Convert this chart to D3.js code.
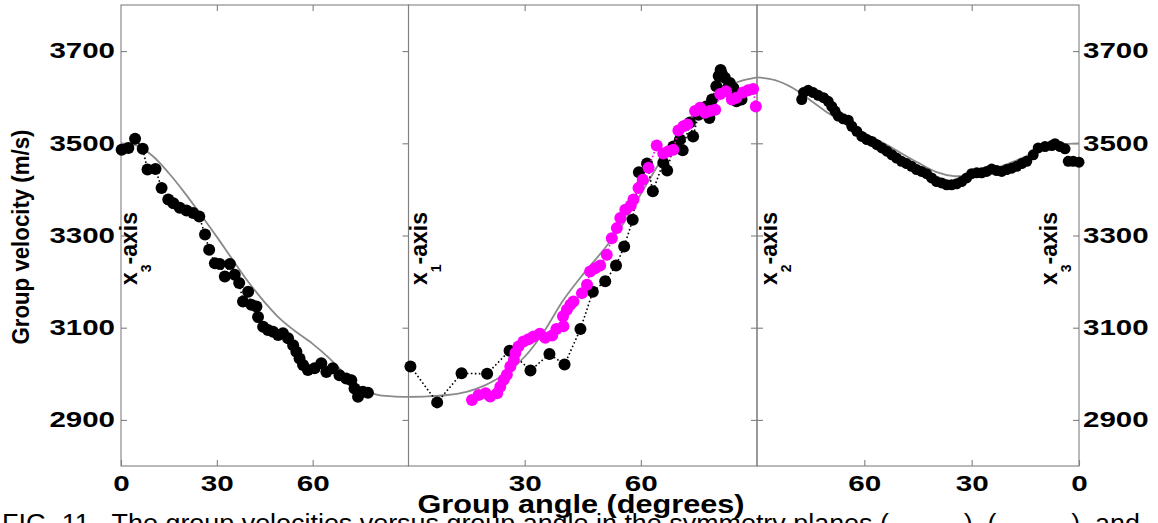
<!DOCTYPE html>
<html>
<head>
<meta charset="utf-8">
<script src="https://cdn.jsdelivr.net/npm/d3@7"></script>
<style>
  body { margin: 0; background: #fff; }
  svg { display: block; font-family: "Liberation Sans", Arial, sans-serif; }
  .tick text { font-weight: bold; fill: #000; }
</style>
</head>
<body>
<div id="chart"></div>
<script>
var svgWidth = 1158;
var svgHeight = 523;

// y ticks shared by all panels
var velTicks = [2900, 3100, 3300, 3500, 3700];

// theory curves (grey)
var t1Angle = [0, 5, 10, 15, 20, 25, 30, 35, 40, 45, 50, 55, 60, 65, 70, 75, 80, 85, 90];
var t1Vel = [3500, 3495, 3472, 3435, 3392, 3345, 3297, 3247, 3198, 3155, 3118, 3090, 3065, 3035, 3000, 2970, 2955, 2951, 2950];
var t2Angle = [0, 5, 10, 15, 20, 25, 30, 35, 40, 45, 50, 55, 60, 65, 70, 75, 80, 85, 90];
var t2Vel = [2950, 2951, 2954, 2961, 2976, 3000, 3037, 3092, 3160, 3215, 3265, 3320, 3390, 3460, 3522, 3575, 3612, 3633, 3643];
var t3Angle = [90, 85, 80, 75, 70, 65, 60, 55, 50, 45, 40, 35, 30, 25, 20, 15, 10, 5, 0];
var t3Vel = [3643, 3637, 3620, 3593, 3565, 3542, 3522, 3502, 3480, 3458, 3438, 3429, 3431, 3441, 3455, 3471, 3487, 3497, 3500];

// measured, x3 -> x1 plane
var p1Angle = [0.2, 2.3, 4.4, 6.8, 8.3, 10.8, 12.7, 14.8, 16.4, 18.4, 20.5, 22.6, 24.5, 26.3, 27.6, 29.4, 30.9, 32.5, 34.1, 35.6, 37.0, 38.2, 39.8, 40.8, 42.4, 42.9, 44.5, 46.0, 47.6, 49.2, 50.7, 52.3, 53.9, 54.9, 55.9, 57.0, 58.5, 60.6, 62.7, 64.3, 66.3, 68.4, 70.5, 72.1, 73.1, 74.2, 75.7, 77.3];
var p1Vel = [3486, 3490, 3510, 3488, 3443, 3444, 3403, 3378, 3370, 3360, 3354, 3349, 3341, 3302, 3269, 3240, 3238, 3211, 3238, 3215, 3197, 3157, 3178, 3150, 3146, 3123, 3102, 3095, 3091, 3084, 3088, 3077, 3062, 3048, 3033, 3019, 3008, 3012, 3023, 3004, 3012, 2997, 2990, 2986, 2968, 2950, 2961, 2959];

// measured, x1 -> x2 plane (black and magenta)
var p2BlackAngle = [0.5, 7.4, 13.7, 20.3, 26.1, 31.5, 36.4, 40.3, 44.4, 47.6, 50.8, 53.6, 55.7, 57.9, 59.5, 61.6, 63.1, 65.8, 66.8, 68.4, 70.1, 70.8, 72.7, 73.5, 74.9, 76.9, 77.7, 78.4, 79.5, 80.1, 80.6, 80.9, 81.7, 82.5, 83.0, 83.5, 83.9, 84.3, 84.7, 86.0];
var p2BlackVel = [3016, 2938, 3001, 3000, 3050, 3007, 3043, 3020, 3097, 3178, 3201, 3235, 3276, 3334, 3437, 3456, 3396, 3458, 3441, 3493, 3508, 3485, 3545, 3515, 3562, 3580, 3555, 3595, 3624, 3646, 3659, 3651, 3642, 3621, 3631, 3606, 3620, 3602, 3591, 3595];
var p2MagAngle = [16.4, 18.1, 19.9, 21.1, 22.9, 23.7, 24.6, 25.4, 26.3, 27.2, 27.6, 28.4, 29.7, 31.0, 32.3, 33.9, 35.3, 37.1, 38.2, 39.9, 40.0, 40.9, 41.8, 42.6, 44.8, 46.1, 46.9, 48.2, 49.5, 51.2, 52.5, 53.8, 54.7, 56.0, 57.4, 58.1, 59.4, 60.5, 62.0, 64.1, 65.8, 67.1, 68.4, 69.7, 71.0, 72.0, 74.0, 75.3, 76.6, 77.8, 79.2, 80.5, 82.0, 83.5, 84.7, 86.4, 87.7, 89.0, 89.7];
var p2MagVel = [2943, 2954, 2958, 2951, 2958, 2972, 2987, 2998, 3016, 3030, 3045, 3059, 3070, 3075, 3081, 3087, 3078, 3083, 3097, 3125, 3103, 3139, 3150, 3157, 3175, 3193, 3222, 3229, 3235, 3258, 3294, 3316, 3338, 3356, 3365, 3378, 3403, 3421, 3447, 3495, 3478, 3483, 3486, 3528, 3537, 3541, 3570, 3577, 3566, 3570, 3573, 3607, 3613, 3595, 3599, 3610, 3615, 3618, 3580];

// measured, x2 -> x3 plane
var p3Angle = [77.5, 77.0, 75.7, 74.3, 72.9, 71.4, 70.1, 69.1, 68.2, 67.3, 65.9, 64.5, 63.5, 62.1, 60.7, 59.3, 57.9, 56.5, 55.1, 53.7, 52.3, 51.0, 49.6, 48.2, 46.8, 45.4, 44.0, 42.6, 41.2, 39.8, 38.4, 37.0, 35.6, 34.2, 32.8, 31.4, 30.0, 28.6, 27.2, 25.8, 24.4, 23.0, 21.6, 20.2, 18.8, 17.4, 16.0, 14.6, 12.8, 11.4, 9.5, 7.6, 6.7, 5.3, 3.9, 3.0, 1.6, 0.0];
var p3Vel = [3595, 3610, 3615, 3610, 3604, 3599, 3591, 3580, 3570, 3559, 3553, 3550, 3537, 3526, 3515, 3508, 3504, 3497, 3490, 3483, 3475, 3468, 3461, 3456, 3450, 3443, 3439, 3434, 3425, 3417, 3414, 3410, 3410, 3412, 3417, 3425, 3434, 3436, 3436, 3439, 3444, 3441, 3439, 3443, 3446, 3450, 3456, 3461, 3475, 3490, 3493, 3495, 3499, 3493, 3488, 3461, 3461, 3459];

var plotTop = 5, plotBottom = 466;
var frameColor = "#808080";

var svg = d3.select("#chart")
  .append("svg")
  .attr("width", svgWidth)
  .attr("height", svgHeight);

var y = d3.scaleLinear().domain([2800, 3800]).range([plotBottom, plotTop]);

var x1 = d3.scaleLinear().domain([0, 90]).range([121, 408.5]);
var x2 = d3.scaleLinear().domain([0, 90]).range([408.5, 757]);
var x3 = d3.scaleLinear().domain([90, 0]).range([757, 1079]);

function zip(a, b) {
  return a.map((d, i) => [d, b[i]]);
}

// draw an axis, style its ticks, drop the domain path
function drawAxis(axis, tx, ty, fontSize, charWidth) {
  var g = svg.append("g")
    .attr("transform", `translate(${tx}, ${ty})`)
    .call(axis);
  g.select(".domain").remove();
  g.selectAll(".tick line").attr("stroke", frameColor).attr("stroke-width", 1.1);
  g.selectAll(".tick text")
    .attr("font-size", fontSize)
    .each(function() {
      var t = d3.select(this).text();
      if (t.length) {
        d3.select(this).attr("textLength", t.length * charWidth).attr("lengthAdjust", "spacingAndGlyphs");
      }
    });
  return g;
}

var noLabel = () => "";
var plain = d3.format("d");

// bottom axes (labels) and top axes (ticks only)
drawAxis(d3.axisBottom(x1).tickValues([0, 30, 60]).tickFormat(plain).tickSize(-6).tickPadding(9), 0, plotBottom, 22, 16.5);
drawAxis(d3.axisBottom(x2).tickValues([30, 60]).tickFormat(plain).tickSize(-6).tickPadding(9), 0, plotBottom, 22, 16.5);
drawAxis(d3.axisBottom(x3).tickValues([60, 30, 0]).tickFormat(plain).tickSize(-6).tickPadding(9), 0, plotBottom, 22, 16.5);
drawAxis(d3.axisTop(x1).tickValues([30, 60]).tickSize(-6).tickFormat(noLabel), 0, plotTop, 22, 16.5);
drawAxis(d3.axisTop(x2).tickValues([30, 60]).tickSize(-6).tickFormat(noLabel), 0, plotTop, 22, 16.5);
drawAxis(d3.axisTop(x3).tickValues([60, 30]).tickSize(-6).tickFormat(noLabel), 0, plotTop, 22, 16.5);

// y axes: outer ones carry labels, dividers only ticks
drawAxis(d3.axisLeft(y).tickValues(velTicks).tickFormat(plain).tickSize(-6).tickPadding(6), 121, 0, 21.5, 16.4);
drawAxis(d3.axisRight(y).tickValues(velTicks).tickSize(-6).tickFormat(noLabel), 408.5, 0, 21, 16.4);
drawAxis(d3.axisRight(y).tickValues(velTicks).tickSize(-6).tickFormat(noLabel), 757, 0, 21, 16.4);
drawAxis(d3.axisLeft(y).tickValues(velTicks).tickSize(-6).tickFormat(noLabel), 757, 0, 21, 16.4);
drawAxis(d3.axisRight(y).tickValues(velTicks).tickFormat(plain).tickSize(-6).tickPadding(4), 1079, 0, 21.5, 16.4);

// panel frames
[[121, 408.5], [408.5, 757], [757, 1079]].forEach(function(p) {
  svg.append("rect")
    .attr("x", p[0])
    .attr("y", plotTop)
    .attr("width", p[1] - p[0])
    .attr("height", plotBottom - plotTop)
    .attr("fill", "none")
    .attr("stroke", frameColor)
    .attr("stroke-width", 1.1);
});

// theory curves
var theory = [[x1, zip(t1Angle, t1Vel)], [x2, zip(t2Angle, t2Vel)], [x3, zip(t3Angle, t3Vel)]];
theory.forEach(function(t) {
  var line = d3.line().x(d => t[0](d[0])).y(d => y(d[1])).curve(d3.curveCatmullRom);
  svg.append("path")
    .attr("d", line(t[1]))
    .attr("fill", "none")
    .attr("stroke", "#8a8a8a")
    .attr("stroke-width", 1.8);
});

// measured points with dotted connecting line
function drawSeries(xs, data, color, r) {
  var line = d3.line().x(d => xs(d[0])).y(d => y(d[1]));
  svg.append("path")
    .attr("d", line(data))
    .attr("fill", "none")
    .attr("stroke", color)
    .attr("stroke-width", 1.6)
    .attr("stroke-dasharray", "1.6,2.4");
  svg.append("g").selectAll("circle")
    .data(data)
    .enter()
    .append("circle")
    .attr("cx", d => xs(d[0]))
    .attr("cy", d => y(d[1]))
    .attr("r", r)
    .attr("fill", color);
}

drawSeries(x1, zip(p1Angle, p1Vel), "#000", 6);
drawSeries(x2, zip(p2BlackAngle, p2BlackVel), "#000", 6);
drawSeries(x2, zip(p2MagAngle, p2MagVel), "#ff00ff", 6);
drawSeries(x3, zip(p3Angle, p3Vel), "#000", 5.5);

// rotated plane labels, e.g. x3-axis
var planeLabels = [[137, "3"], [427, "1"], [777, "2"], [1057, "3"]];
planeLabels.forEach(function(p) {
  var t = svg.append("text")
    .attr("transform", `translate(${p[0]}, 285) rotate(-90)`)
    .attr("font-size", 23)
    .attr("font-weight", "bold");
  t.append("tspan").text("x");
  t.append("tspan").attr("font-size", 14).attr("dy", 14).text(p[1]);
  t.append("tspan").attr("dy", -14).text("-axis");
});

// axis titles
svg.append("text")
  .attr("transform", "translate(29, 237) rotate(-90)")
  .attr("text-anchor", "middle")
  .attr("font-size", 23)
  .attr("font-weight", "bold")
  .attr("textLength", 215)
  .attr("lengthAdjust", "spacingAndGlyphs")
  .text("Group velocity (m/s)");

svg.append("text")
  .attr("x", 581)
  .attr("y", 513)
  .attr("text-anchor", "middle")
  .attr("font-size", 26)
  .attr("font-weight", "bold")
  .attr("textLength", 327)
  .attr("lengthAdjust", "spacingAndGlyphs")
  .text("Group angle (degrees)");

// figure caption, cut off by the bottom edge
svg.append("text")
  .attr("x", 2)
  .attr("y", 532)
  .attr("font-size", 26)
  .attr("textLength", 1138)
  .attr("lengthAdjust", "spacingAndGlyphs")
  .style("white-space", "pre")
  .text("FIG. 11.  The group velocities versus group angle in the symmetry planes (          ), (          )  and");
</script>
</body>
</html>
